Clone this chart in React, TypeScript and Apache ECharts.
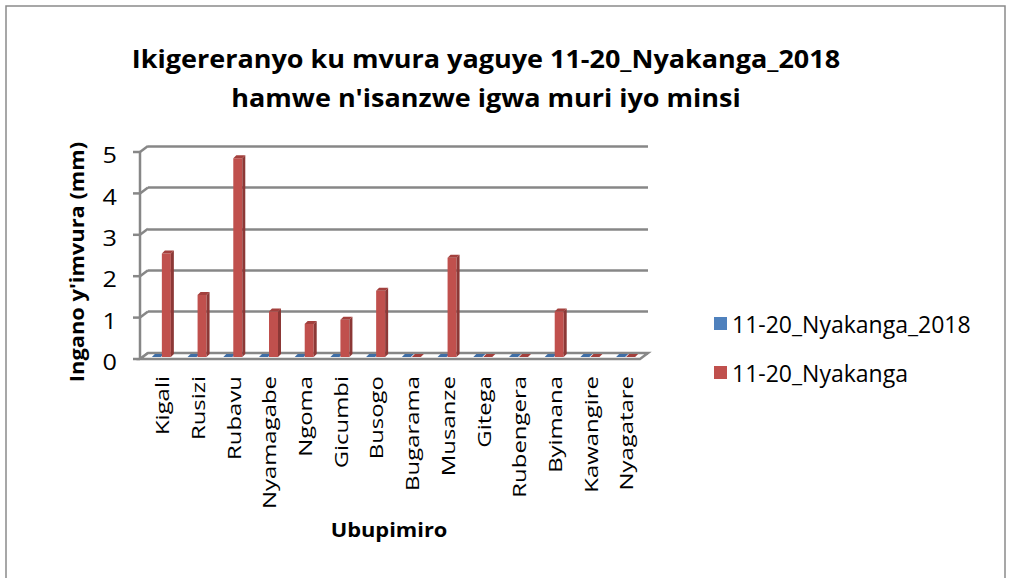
import React, { useEffect, useRef } from "react";
import * as echarts from "echarts";

const categories = ["Kigali", "Rusizi", "Rubavu", "Nyamagabe", "Ngoma", "Gicumbi", "Busogo", "Bugarama", "Musanze", "Gitega", "Rubengera", "Byimana", "Kawangire", "Nyagatare"];
const series2018 = [0, 0, 0, 0, 0, 0, 0, 0, 0, 0, 0, 0, 0, 0];
const seriesNormal = [2.5, 1.5, 4.8, 1.1, 0.8, 0.9, 1.6, 0, 2.4, 0, 0, 1.1, 0, 0];
const yTicks = [0, 1, 2, 3, 4, 5];
const seriesNames = ["11-20_Nyakanga_2018", "11-20_Nyakanga"];
const titleLines = ["Ikigereranyo ku mvura yaguye 11-20_Nyakanga_2018", "hamwe n'isanzwe igwa muri iyo minsi"];
const yTitle = "Ingano y'imvura (mm)";
const xTitle = "Ubupimiro";

const FONT = "'Open Sans', sans-serif";
const GRID = "#878787";
const DX = -8;
const DY = 6;

const palettes = [
  { front: "#4F81BD", side: "#385d8a", top: "#3f6ea6" },
  { front: "#C0504D", side: "#8c3836", top: "#a3403d" },
];

function makeBarRenderer(idx: number) {
  return (params: any, api: any) => {
    const i = api.value(0);
    const v = api.value(1);
    const base = api.coord([i, 0]);
    const top = api.coord([i, v]);
    const cx = base[0];
    const w = 9;
    const d = 3;
    const x0 = cx + (idx === 0 ? -14 : -4);
    const yT = top[1] + 4;
    const yB = base[1] + 4;
    const p = palettes[idx];
    return {
      type: "group",
      children: [
        {
          type: "rect",
          shape: { x: x0, y: yT, width: w, height: Math.max(0, yB - yT) },
          style: { fill: p.front },
        },
        {
          type: "polygon",
          shape: { points: [[x0 + w, yT], [x0 + w + d, yT - d], [x0 + w + d, yB - d], [x0 + w, yB]] },
          style: { fill: p.side },
        },
        {
          type: "polygon",
          shape: { points: [[x0, yT], [x0 + w, yT], [x0 + w + d, yT - d], [x0 + d, yT - d]] },
          style: { fill: p.top },
        },
      ],
    };
  };
}

function renderWalls(params: any, api: any) {
  const cs = params.coordSys;
  const gx = cs.x;
  const gr = cs.x + cs.width;
  const v = api.value(1);
  const y = api.coord([0, v])[1];
  const children: any[] = [
    { type: "line", shape: { x1: gx, y1: y, x2: gx + DX, y2: y + DY }, style: { stroke: GRID, lineWidth: 2.5 } },
    { type: "line", shape: { x1: gx + DX, y1: y + DY, x2: gx + DX - 7, y2: y + DY }, style: { stroke: GRID, lineWidth: 2.5 } },
    {
      type: "text",
      x: gx + DX - 23,
      y: y + DY + 3,
      scaleX: 1.2,
      style: { text: String(v), fontFamily: FONT, fontSize: 21, fill: "#000", align: "right", verticalAlign: "middle" },
    },
  ];
  if (v === 0) {
    const yTop = api.coord([0, yTicks[yTicks.length - 1]])[1];
    children.push({
      type: "polygon",
      shape: { points: [[gx, y], [gr, y], [gr + DX, y + DY], [gx + DX, y + DY]] },
      style: { fill: "#ffffff", stroke: GRID, lineWidth: 2.5 },
    });
    children.push({
      type: "line",
      shape: { x1: gx + DX, y1: yTop + DY, x2: gx + DX, y2: y + DY },
      style: { stroke: GRID, lineWidth: 2.5 },
    });
  }
  return { type: "group", children };
}

function renderCatLabel(params: any, api: any) {
  const i = api.value(0);
  const p = api.coord([i, 0]);
  return {
    type: "text",
    x: p[0] - 4,
    y: p[1] + 23,
    rotation: Math.PI / 2,
    scaleX: 1.33,
    style: { text: categories[i], fontFamily: FONT, fontSize: 18, fill: "#000", align: "right", verticalAlign: "middle" },
  };
}

export default function App() {
  const ref = useRef<HTMLDivElement>(null);
  useEffect(() => {
    if (!ref.current) return;
    const chart = echarts.init(ref.current, null, { renderer: "svg" });
    chart.setOption({
      animation: false,
      backgroundColor: "#ffffff",
      color: [palettes[0].front, palettes[1].front],
      legend: {
        data: seriesNames,
        orient: "vertical",
        left: 709,
        top: 307,
        itemWidth: 13,
        itemHeight: 13,
        itemGap: 26,
        icon: "rect",
        textStyle: { fontFamily: FONT, fontSize: 23, color: "#000" },
      },
      grid: { left: 148, top: 146, width: 500, height: 207 },
      xAxis: {
        type: "category",
        data: categories,
        axisLine: { show: false },
        axisTick: { show: false },
        axisLabel: { show: false },
      },
      yAxis: {
        type: "value",
        min: 0,
        max: 5,
        interval: 1,
        axisLine: { show: false },
        axisTick: { show: false },
        splitLine: { lineStyle: { color: GRID, width: 2.5 } },
        axisLabel: { show: false },
      },
      graphic: [
        {
          type: "rect",
          shape: { x: 6, y: 6, width: 999, height: 620 },
          style: { fill: "none", stroke: "#8a8a8a", lineWidth: 1.5 },
          silent: true,
        },
        {
          type: "text",
          x: 486,
          y: 58,
          scaleX: 1.08,
          style: { text: titleLines[0], fontFamily: FONT, fontWeight: "bold", fontSize: 25, fill: "#000", align: "center", verticalAlign: "middle" },
        },
        {
          type: "text",
          x: 486,
          y: 97,
          scaleX: 1.08,
          style: { text: titleLines[1], fontFamily: FONT, fontWeight: "bold", fontSize: 25, fill: "#000", align: "center", verticalAlign: "middle" },
        },
        {
          type: "text",
          x: 77,
          y: 262,
          rotation: Math.PI / 2,
          scaleX: 1.15,
          style: { text: yTitle, fontFamily: FONT, fontWeight: "bold", fontSize: 19, fill: "#000", align: "center", verticalAlign: "middle" },
        },
        {
          type: "text",
          x: 389,
          y: 530,
          scaleX: 1.15,
          style: { text: xTitle, fontFamily: FONT, fontWeight: "bold", fontSize: 19, fill: "#000", align: "center", verticalAlign: "middle" },
        },
      ],
      series: [
        {
          type: "custom",
          name: "walls",
          renderItem: renderWalls,
          data: yTicks.map((t) => [0, t]),
          encode: { x: 0, y: 1 },
          z: 1,
          silent: true,
        },
        {
          type: "custom",
          name: "labels",
          renderItem: renderCatLabel,
          data: categories.map((_, i) => [i, 0]),
          encode: { x: 0, y: 1 },
          z: 1,
          silent: true,
          clip: false,
        },
        {
          type: "custom",
          name: seriesNames[0],
          renderItem: makeBarRenderer(0),
          data: series2018.map((v, i) => [i, v]),
          encode: { x: 0, y: 1 },
          itemStyle: { color: palettes[0].front },
          z: 3,
        },
        {
          type: "custom",
          name: seriesNames[1],
          renderItem: makeBarRenderer(1),
          data: seriesNormal.map((v, i) => [i, v]),
          encode: { x: 0, y: 1 },
          itemStyle: { color: palettes[1].front },
          z: 3,
        },
      ],
    });
    return () => chart.dispose();
  }, []);
  return <div ref={ref} style={{ position: "fixed", left: 0, top: 0, width: 1010, height: 578 }} />;
}
